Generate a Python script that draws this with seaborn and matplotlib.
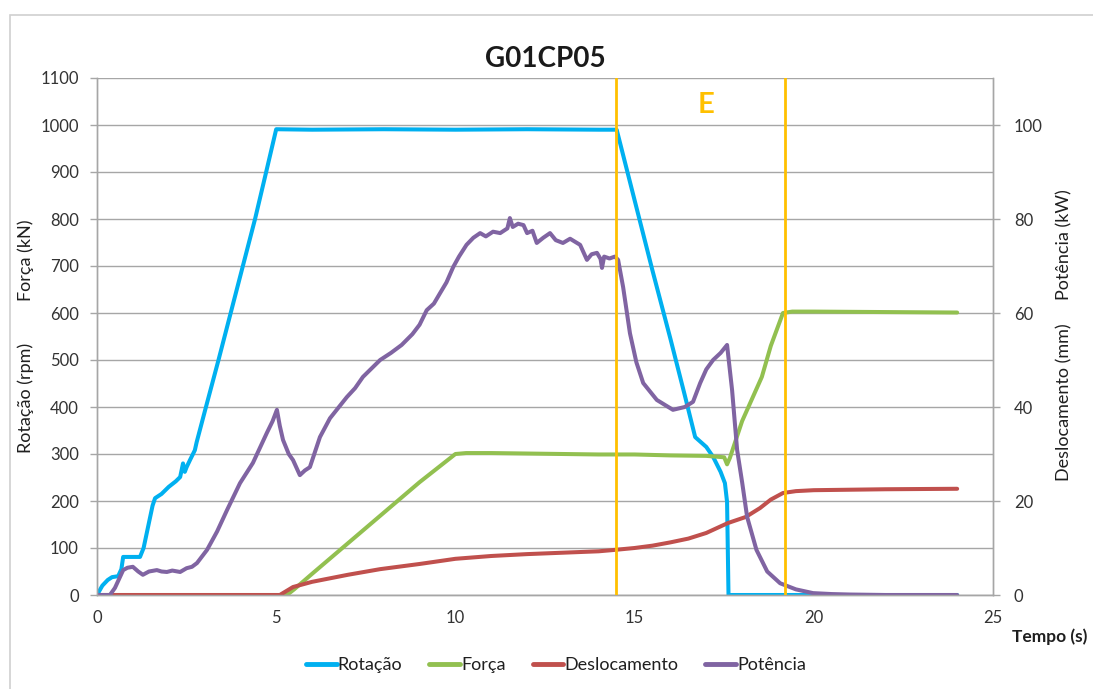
import matplotlib
matplotlib.use("Agg")
import matplotlib.pyplot as plt
import seaborn as sns
import pandas as pd
from matplotlib.patches import Rectangle

# ---------------- data ----------------
rot_t = [0, 0.15, 0.3, 0.42, 0.59, 0.68, 0.73, 1.2, 1.3, 1.55, 1.62, 1.8, 2.0, 2.2, 2.32, 2.4, 2.45, 2.5, 2.6, 2.73,
         2.78, 3.04, 3.39, 3.73, 4.07, 4.41, 4.72, 5.0, 6.0, 8.0, 10.0, 12.0, 14.0, 14.5, 15.0, 15.5, 16.0, 16.4, 16.69,
         17.0, 17.19, 17.4, 17.52, 17.58, 17.62, 24.0]
rot_v = [0, 20, 32, 38, 40, 55, 81, 81, 100, 190, 206, 215, 230, 242, 251, 280, 262, 272, 288, 308,
         325, 400, 500, 600, 700, 800, 900, 991, 990, 991, 990, 991, 990, 990, 840, 690, 545, 425, 336,
         315, 294, 262, 238, 198, 0, 0]

forca_t = [0, 5.3, 5.5, 6.0, 7.0, 8.0, 9.0, 10.0, 10.3, 11.0, 12.0, 13.0, 14.0, 15.0, 16.0, 17.0, 17.5, 17.58, 17.66,
           18.0, 18.55, 18.8, 19.14, 19.4, 20.0, 22.0, 24.0]
forca_v = [0, 0, 12, 45, 110, 175, 240, 300, 302, 302, 301, 300, 299, 299, 297, 296, 293, 278, 292,
           370, 464, 530, 600, 603, 603, 602, 601]

desl_t = [0, 5.1, 5.47, 6.0, 7.0, 7.9, 9.0, 10.0, 11.0, 12.0, 13.0, 14.0, 14.45, 15.0, 15.5, 16.0, 16.5, 17.0, 17.4,
          17.6, 18.1, 18.5, 18.8, 19.14, 19.5, 20.0, 21.0, 22.0, 24.0]
desl_v = [0, 0, 1.7, 2.8, 4.3, 5.5, 6.6, 7.7, 8.3, 8.7, 9.0, 9.3, 9.6, 10.0, 10.5, 11.2, 12.0, 13.2, 14.6,
          15.3, 16.6, 18.5, 20.3, 21.7, 22.1, 22.3, 22.4, 22.5, 22.6]

pot_t = [0, 0.36, 0.5, 0.73, 0.85, 1.0, 1.15, 1.28, 1.45, 1.67, 1.8, 1.95, 2.1, 2.32, 2.5, 2.65, 2.79, 3.07, 3.35,
         3.63, 3.99, 4.35, 4.74, 4.9, 5.02, 5.1, 5.19, 5.35, 5.47, 5.66, 5.8, 5.94, 6.22, 6.5, 6.97, 7.2, 7.42, 7.7,
         7.9, 8.2, 8.5, 8.8, 9.0, 9.2, 9.4, 9.57, 9.75, 9.94, 10.1, 10.31, 10.5, 10.69, 10.85, 11.05, 11.25, 11.45,
         11.52, 11.6, 11.75, 11.9, 12.0, 12.15, 12.27, 12.45, 12.64, 12.8, 13.0, 13.2, 13.48, 13.67, 13.8, 13.95,
         14.05, 14.09, 14.15, 14.3, 14.45, 14.54, 14.68, 14.87, 15.05, 15.24, 15.62,
         16.07, 16.4, 16.63, 16.83, 17.0, 17.19, 17.4, 17.58, 17.72, 17.86, 18.0, 18.14, 18.4, 18.7, 19.06, 19.5,
         19.98, 20.5, 21.0, 22.0, 24.0]
pot_v = [0, 0, 1.5, 5.3, 5.8, 6.0, 5.0, 4.3, 5.0, 5.3, 5.0, 4.9, 5.2, 4.9, 5.7, 6.0, 6.8, 9.6, 13.5,
         18.1, 23.8, 28.1, 34.5, 37.0, 39.4, 36.0, 33.0, 30.0, 28.7, 25.5, 26.5, 27.2, 33.6, 37.6, 42.1, 44.0, 46.4,
         48.5, 50.0, 51.5, 53.2, 55.5, 57.5, 60.6, 62.0, 64.2, 66.5, 69.8, 72.0, 74.5, 76.0, 77.0, 76.3, 77.3, 77.0,
         78.0, 80.2, 78.3, 79.0, 78.7, 77.0, 77.5, 74.9, 76.0, 77.0, 75.5, 74.9, 75.8, 74.5, 71.3, 72.5, 72.8,
         71.5, 69.6, 72.0, 71.6, 72.0, 71.3, 65.5, 55.7, 49.5, 45.1, 41.5,
         39.4, 40.0, 41.1, 45.1, 48.0, 50.0, 51.5, 53.2, 43.6, 30.9, 24.0, 16.6, 9.6, 5.0, 2.5, 1.2,
         0.4, 0.2, 0.1, 0.0, 0.0]

marker_lines = [14.48, 19.2]
series_names = ["Rotação", "Força", "Deslocamento", "Potência"]
colors = ["#00B0F0", "#92C050", "#C0504D", "#8064A2"]

# ---------------- plot ----------------
sns.set_style("white")
plt.rcParams["font.family"] = ["Lato", "DejaVu Sans"]

fig = plt.figure(figsize=(10.93, 6.89), dpi=100)
ax = fig.add_axes([97 / 1093, 1 - 595 / 689, (993 - 97) / 1093, (595 - 78) / 689])
ax2 = ax.twinx()

fig.patches.append(Rectangle((10 / 1093, -0.1), 1.2, 1.078, transform=fig.transFigure,
                             fill=False, edgecolor="#D0D0D0", linewidth=1.2, zorder=0))

lw = 2.9
df_rot = pd.DataFrame({"t": rot_t, "v": rot_v})
df_for = pd.DataFrame({"t": forca_t, "v": forca_v})
df_des = pd.DataFrame({"t": desl_t, "v": desl_v})
df_pot = pd.DataFrame({"t": pot_t, "v": pot_v})

sns.lineplot(data=df_rot, x="t", y="v", ax=ax, color=colors[0], lw=lw, sort=False, estimator=None)
sns.lineplot(data=df_for, x="t", y="v", ax=ax, color=colors[1], lw=lw, sort=False, estimator=None)
sns.lineplot(data=df_des, x="t", y="v", ax=ax2, color=colors[2], lw=lw, sort=False, estimator=None)
sns.lineplot(data=df_pot, x="t", y="v", ax=ax2, color=colors[3], lw=lw, sort=False, estimator=None)

for xv in marker_lines:
    ax2.axvline(xv, color="#FFC000", lw=2.0, zorder=5)
ax2.text(17.0, 104.3, "E", color="#FFC000", fontsize=21, fontweight="bold", ha="center", va="center")

ax.set_xlim(0, 25)
ax.set_ylim(0, 1100)
ax2.set_ylim(0, 110)
ax.set_xticks(range(0, 26, 5))
ax.set_yticks(range(0, 1101, 100))
ax2.set_yticks(range(0, 101, 20))
ax.grid(axis="y", color="#A6A6A6", lw=1.0)
ax.set_xlabel("")
ax.set_ylabel("")
ax2.set_ylabel("")

for a in (ax, ax2):
    for s in a.spines.values():
        s.set_color("#A6A6A6")
        s.set_linewidth(1.0)
    a.spines["top"].set_visible(False)
    a.tick_params(axis="both", which="both", length=5, color="#A6A6A6", labelsize=12, labelcolor="#333333", width=1)
ax.tick_params(axis="y", pad=8)
ax.tick_params(axis="x", pad=6)
ax2.tick_params(axis="y", pad=10)

ax.set_title("G01CP05", fontsize=20, fontweight="bold", pad=8, color="#1a1a1a")

tc = "#1f1f1f"
fs_lab = 13
fig.text(26 / 1093, 1 - 260 / 689, "Força (kN)", rotation=90, ha="center", va="center", fontsize=fs_lab, color=tc)
fig.text(26 / 1093, 1 - 398 / 689, "Rotação (rpm)", rotation=90, ha="center", va="center", fontsize=fs_lab, color=tc)
fig.text(1064 / 1093, 1 - 245 / 689, "Potência (kW)", rotation=90, ha="center", va="center", fontsize=fs_lab, color=tc)
fig.text(1064 / 1093, 1 - 402 / 689, "Deslocamento (mm)", rotation=90, ha="center", va="center", fontsize=fs_lab, color=tc)
fig.text(1050 / 1093, 1 - 637 / 689, "Tempo (s)", ha="center", va="center", fontsize=12.5, fontweight="bold", color=tc)

handles = [plt.Line2D([], [], color=c, lw=3.5) for c in colors]
fig.legend(handles, series_names, loc="center", bbox_to_anchor=(556 / 1093, 1 - 665 / 689), ncol=4,
           frameon=False, fontsize=13, handlelength=1.7, handletextpad=0.05, columnspacing=1.5,
           labelcolor=tc)

fig.savefig("out.png", dpi=100)
